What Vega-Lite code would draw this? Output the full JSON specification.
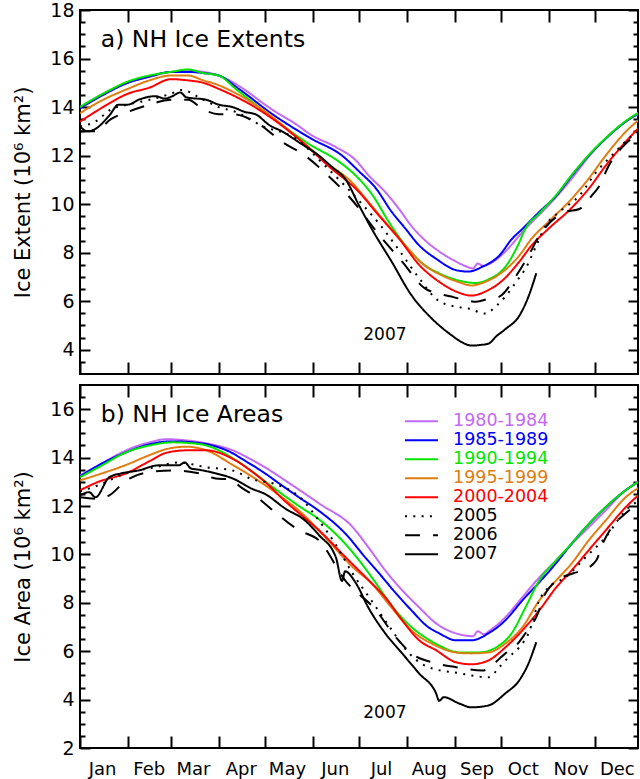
{
  "$schema": "https://vega.github.io/schema/vega-lite/v6.json",
  "padding": {"left": 11, "top": 0, "right": 0, "bottom": 1},
  "spacing": 7,
  "config": {
    "font": "DejaVu Sans",
    "view": {"stroke": "#000", "strokeWidth": 2},
    "axis": {"ticks": true, "tickOpacity": 1, "labelColor": "#000", "titleColor": "#000", "tickColor": "#000", "domainColor": "#000", "tickWidth": 2, "grid": false, "domain": false, "titleFontWeight": "normal", "labelFont": "DejaVu Sans", "titleFont": "DejaVu Sans", "minExtent": 0},
    "legend": {"labelFont": "DejaVu Sans"},
    "text": {"font": "DejaVu Sans", "color": "#000"}
  },
  "resolve": {"scale": {"color": "independent", "strokeDash": "independent"}},
  "datasets": {
    "extent": [
      {"s":"1980-1984","d":0,"v":14.0},{"s":"1980-1984","d":15,"v":14.55},{"s":"1980-1984","d":31,"v":15.0},{"s":"1980-1984","d":45,"v":15.25},{"s":"1980-1984","d":59,"v":15.45},{"s":"1980-1984","d":70,"v":15.5},{"s":"1980-1984","d":80,"v":15.45},{"s":"1980-1984","d":90,"v":15.3},{"s":"1980-1984","d":106,"v":14.75},{"s":"1980-1984","d":120,"v":14.1},{"s":"1980-1984","d":127,"v":13.8},{"s":"1980-1984","d":140,"v":13.3},{"s":"1980-1984","d":150,"v":12.85},{"s":"1980-1984","d":166,"v":12.35},{"s":"1980-1984","d":179,"v":11.8},{"s":"1980-1984","d":187,"v":11.2},{"s":"1980-1984","d":198,"v":10.5},{"s":"1980-1984","d":207,"v":9.8},{"s":"1980-1984","d":215,"v":9.1},{"s":"1980-1984","d":224,"v":8.5},{"s":"1980-1984","d":233,"v":8.05},{"s":"1980-1984","d":242,"v":7.7},{"s":"1980-1984","d":250,"v":7.45},{"s":"1980-1984","d":255,"v":7.35},{"s":"1980-1984","d":258,"v":7.55},{"s":"1980-1984","d":262,"v":7.45},{"s":"1980-1984","d":266,"v":7.55},{"s":"1980-1984","d":276,"v":8.05},{"s":"1980-1984","d":285,"v":8.7},{"s":"1980-1984","d":293,"v":9.25},{"s":"1980-1984","d":304,"v":9.95},{"s":"1980-1984","d":319,"v":11.05},{"s":"1980-1984","d":330,"v":11.95},{"s":"1980-1984","d":341,"v":12.7},{"s":"1980-1984","d":354,"v":13.4},{"s":"1980-1984","d":365,"v":13.8},
      {"s":"1985-1989","d":0,"v":13.95},{"s":"1985-1989","d":15,"v":14.5},{"s":"1985-1989","d":31,"v":15.0},{"s":"1985-1989","d":45,"v":15.25},{"s":"1985-1989","d":59,"v":15.45},{"s":"1985-1989","d":70,"v":15.45},{"s":"1985-1989","d":80,"v":15.4},{"s":"1985-1989","d":90,"v":15.3},{"s":"1985-1989","d":103,"v":14.75},{"s":"1985-1989","d":125,"v":13.7},{"s":"1985-1989","d":150,"v":12.7},{"s":"1985-1989","d":170,"v":12.0},{"s":"1985-1989","d":181,"v":11.35},{"s":"1985-1989","d":192,"v":10.65},{"s":"1985-1989","d":202,"v":9.7},{"s":"1985-1989","d":211,"v":9.0},{"s":"1985-1989","d":220,"v":8.3},{"s":"1985-1989","d":231,"v":7.75},{"s":"1985-1989","d":244,"v":7.28},{"s":"1985-1989","d":252,"v":7.22},{"s":"1985-1989","d":261,"v":7.42},{"s":"1985-1989","d":272,"v":7.88},{"s":"1985-1989","d":280,"v":8.55},{"s":"1985-1989","d":287,"v":8.98},{"s":"1985-1989","d":298,"v":9.68},{"s":"1985-1989","d":309,"v":10.35},{"s":"1985-1989","d":319,"v":11.17},{"s":"1985-1989","d":330,"v":12.0},{"s":"1985-1989","d":341,"v":12.7},{"s":"1985-1989","d":354,"v":13.4},{"s":"1985-1989","d":365,"v":13.85},
      {"s":"1990-1994","d":0,"v":14.0},{"s":"1990-1994","d":15,"v":14.55},{"s":"1990-1994","d":31,"v":15.05},{"s":"1990-1994","d":45,"v":15.3},{"s":"1990-1994","d":59,"v":15.45},{"s":"1990-1994","d":70,"v":15.55},{"s":"1990-1994","d":80,"v":15.4},{"s":"1990-1994","d":90,"v":15.3},{"s":"1990-1994","d":101,"v":14.75},{"s":"1990-1994","d":123,"v":13.65},{"s":"1990-1994","d":148,"v":12.5},{"s":"1990-1994","d":168,"v":11.75},{"s":"1990-1994","d":179,"v":11.17},{"s":"1990-1994","d":190,"v":10.35},{"s":"1990-1994","d":200,"v":9.3},{"s":"1990-1994","d":211,"v":8.3},{"s":"1990-1994","d":224,"v":7.47},{"s":"1990-1994","d":233,"v":7.15},{"s":"1990-1994","d":246,"v":6.85},{"s":"1990-1994","d":257,"v":6.75},{"s":"1990-1994","d":265,"v":6.9},{"s":"1990-1994","d":276,"v":7.42},{"s":"1990-1994","d":284,"v":8.29},{"s":"1990-1994","d":289,"v":9.0},{"s":"1990-1994","d":298,"v":9.62},{"s":"1990-1994","d":309,"v":10.38},{"s":"1990-1994","d":319,"v":11.2},{"s":"1990-1994","d":330,"v":12.02},{"s":"1990-1994","d":341,"v":12.72},{"s":"1990-1994","d":354,"v":13.42},{"s":"1990-1994","d":365,"v":13.87},
      {"s":"1995-1999","d":0,"v":13.75},{"s":"1995-1999","d":15,"v":14.3},{"s":"1995-1999","d":31,"v":14.75},{"s":"1995-1999","d":45,"v":15.1},{"s":"1995-1999","d":59,"v":15.3},{"s":"1995-1999","d":70,"v":15.3},{"s":"1995-1999","d":80,"v":15.1},{"s":"1995-1999","d":90,"v":14.9},{"s":"1995-1999","d":97,"v":14.7},{"s":"1995-1999","d":116,"v":14.0},{"s":"1995-1999","d":148,"v":12.36},{"s":"1995-1999","d":161,"v":11.66},{"s":"1995-1999","d":176,"v":10.92},{"s":"1995-1999","d":187,"v":10.1},{"s":"1995-1999","d":200,"v":9.11},{"s":"1995-1999","d":211,"v":8.3},{"s":"1995-1999","d":224,"v":7.45},{"s":"1995-1999","d":233,"v":7.12},{"s":"1995-1999","d":246,"v":6.78},{"s":"1995-1999","d":254,"v":6.65},{"s":"1995-1999","d":263,"v":6.8},{"s":"1995-1999","d":274,"v":7.2},{"s":"1995-1999","d":285,"v":7.88},{"s":"1995-1999","d":293,"v":8.58},{"s":"1995-1999","d":304,"v":9.28},{"s":"1995-1999","d":319,"v":10.22},{"s":"1995-1999","d":330,"v":11.05},{"s":"1995-1999","d":341,"v":12.0},{"s":"1995-1999","d":354,"v":12.98},{"s":"1995-1999","d":365,"v":13.6},
      {"s":"2000-2004","d":0,"v":13.4},{"s":"2000-2004","d":15,"v":14.0},{"s":"2000-2004","d":31,"v":14.55},{"s":"2000-2004","d":45,"v":14.8},{"s":"2000-2004","d":59,"v":15.15},{"s":"2000-2004","d":70,"v":15.1},{"s":"2000-2004","d":80,"v":15.0},{"s":"2000-2004","d":90,"v":14.75},{"s":"2000-2004","d":112,"v":14.05},{"s":"2000-2004","d":144,"v":12.57},{"s":"2000-2004","d":161,"v":11.58},{"s":"2000-2004","d":181,"v":10.5},{"s":"2000-2004","d":194,"v":9.52},{"s":"2000-2004","d":207,"v":8.58},{"s":"2000-2004","d":220,"v":7.5},{"s":"2000-2004","d":233,"v":6.8},{"s":"2000-2004","d":244,"v":6.4},{"s":"2000-2004","d":254,"v":6.23},{"s":"2000-2004","d":263,"v":6.4},{"s":"2000-2004","d":274,"v":6.85},{"s":"2000-2004","d":285,"v":7.63},{"s":"2000-2004","d":293,"v":8.3},{"s":"2000-2004","d":304,"v":8.99},{"s":"2000-2004","d":319,"v":9.85},{"s":"2000-2004","d":330,"v":10.63},{"s":"2000-2004","d":341,"v":11.58},{"s":"2000-2004","d":354,"v":12.57},{"s":"2000-2004","d":365,"v":13.3},
      {"s":"2005","d":0,"v":13.2},{"s":"2005","d":10,"v":13.4},{"s":"2005","d":20,"v":13.9},{"s":"2005","d":31,"v":14.1},{"s":"2005","d":45,"v":14.3},{"s":"2005","d":59,"v":14.55},{"s":"2005","d":66,"v":14.7},{"s":"2005","d":80,"v":14.3},{"s":"2005","d":90,"v":14.0},{"s":"2005","d":101,"v":13.8},{"s":"2005","d":118,"v":13.23},{"s":"2005","d":140,"v":12.7},{"s":"2005","d":159,"v":11.58},{"s":"2005","d":183,"v":10.0},{"s":"2005","d":194,"v":9.2},{"s":"2005","d":207,"v":8.1},{"s":"2005","d":220,"v":6.95},{"s":"2005","d":233,"v":6.0},{"s":"2005","d":246,"v":5.75},{"s":"2005","d":252,"v":5.7},{"s":"2005","d":263,"v":5.49},{"s":"2005","d":270,"v":5.8},{"s":"2005","d":276,"v":6.19},{"s":"2005","d":283,"v":6.8},{"s":"2005","d":289,"v":7.34},{"s":"2005","d":296,"v":8.29},{"s":"2005","d":302,"v":9.11},{"s":"2005","d":311,"v":9.68},{"s":"2005","d":324,"v":10.35},{"s":"2005","d":335,"v":11.33},{"s":"2005","d":345,"v":12.0},{"s":"2005","d":356,"v":12.7},{"s":"2005","d":365,"v":13.1},
      {"s":"2006","d":0,"v":13.0},{"s":"2006","d":10,"v":13.0},{"s":"2006","d":20,"v":13.5},{"s":"2006","d":31,"v":13.8},{"s":"2006","d":45,"v":14.1},{"s":"2006","d":59,"v":14.3},{"s":"2006","d":70,"v":14.3},{"s":"2006","d":80,"v":13.9},{"s":"2006","d":90,"v":13.7},{"s":"2006","d":99,"v":13.7},{"s":"2006","d":116,"v":13.3},{"s":"2006","d":131,"v":12.57},{"s":"2006","d":146,"v":12.0},{"s":"2006","d":161,"v":11.17},{"s":"2006","d":174,"v":10.35},{"s":"2006","d":196,"v":8.58},{"s":"2006","d":209,"v":7.63},{"s":"2006","d":224,"v":6.52},{"s":"2006","d":241,"v":6.19},{"s":"2006","d":250,"v":6.05},{"s":"2006","d":257,"v":5.98},{"s":"2006","d":265,"v":6.1},{"s":"2006","d":272,"v":6.19},{"s":"2006","d":283,"v":7.05},{"s":"2006","d":291,"v":7.88},{"s":"2006","d":298,"v":8.7},{"s":"2006","d":304,"v":9.19},{"s":"2006","d":315,"v":9.68},{"s":"2006","d":324,"v":9.8},{"s":"2006","d":332,"v":10.35},{"s":"2006","d":337,"v":10.76},{"s":"2006","d":343,"v":11.58},{"s":"2006","d":352,"v":12.36},{"s":"2006","d":358,"v":12.7},{"s":"2006","d":365,"v":12.85},
      {"s":"2007","d":0,"v":13.2},{"s":"2007","d":5,"v":13.0},{"s":"2007","d":10,"v":13.1},{"s":"2007","d":19,"v":13.65},{"s":"2007","d":25,"v":14.1},{"s":"2007","d":31,"v":14.1},{"s":"2007","d":38,"v":14.3},{"s":"2007","d":49,"v":14.45},{"s":"2007","d":55,"v":14.35},{"s":"2007","d":60,"v":14.45},{"s":"2007","d":65,"v":14.6},{"s":"2007","d":69,"v":14.4},{"s":"2007","d":82,"v":14.3},{"s":"2007","d":90,"v":14.1},{"s":"2007","d":99,"v":14.0},{"s":"2007","d":107,"v":13.8},{"s":"2007","d":114,"v":13.7},{"s":"2007","d":123,"v":13.25},{"s":"2007","d":131,"v":13.0},{"s":"2007","d":142,"v":12.55},{"s":"2007","d":155,"v":12.0},{"s":"2007","d":164,"v":11.5},{"s":"2007","d":172,"v":11.05},{"s":"2007","d":181,"v":9.95},{"s":"2007","d":190,"v":8.9},{"s":"2007","d":202,"v":7.65},{"s":"2007","d":215,"v":6.25},{"s":"2007","d":228,"v":5.3},{"s":"2007","d":241,"v":4.6},{"s":"2007","d":248,"v":4.3},{"s":"2007","d":254,"v":4.17},{"s":"2007","d":260,"v":4.2},{"s":"2007","d":265,"v":4.25},{"s":"2007","d":270,"v":4.55},{"s":"2007","d":276,"v":4.85},{"s":"2007","d":285,"v":5.4},{"s":"2007","d":291,"v":6.2},{"s":"2007","d":296,"v":7.15}
    ],
    "area": [
      {"s":"1980-1984","d":0,"v":13.27},{"s":"1980-1984","d":12,"v":13.68},{"s":"1980-1984","d":30,"v":14.3},{"s":"1980-1984","d":45,"v":14.63},{"s":"1980-1984","d":56,"v":14.76},{"s":"1980-1984","d":69,"v":14.71},{"s":"1980-1984","d":82,"v":14.59},{"s":"1980-1984","d":99,"v":14.3},{"s":"1980-1984","d":112,"v":13.89},{"s":"1980-1984","d":120,"v":13.6},{"s":"1980-1984","d":133,"v":13.06},{"s":"1980-1984","d":155,"v":12.11},{"s":"1980-1984","d":177,"v":11.12},{"s":"1980-1984","d":187,"v":10.3},{"s":"1980-1984","d":198,"v":9.34},{"s":"1980-1984","d":209,"v":8.52},{"s":"1980-1984","d":220,"v":7.81},{"s":"1980-1984","d":231,"v":7.15},{"s":"1980-1984","d":246,"v":6.7},{"s":"1980-1984","d":255,"v":6.62},{"s":"1980-1984","d":258,"v":6.82},{"s":"1980-1984","d":262,"v":6.7},{"s":"1980-1984","d":266,"v":6.86},{"s":"1980-1984","d":276,"v":7.41},{"s":"1980-1984","d":287,"v":8.23},{"s":"1980-1984","d":298,"v":9.05},{"s":"1980-1984","d":309,"v":9.76},{"s":"1980-1984","d":319,"v":10.43},{"s":"1980-1984","d":330,"v":11.12},{"s":"1980-1984","d":341,"v":11.82},{"s":"1980-1984","d":354,"v":12.65},{"s":"1980-1984","d":365,"v":13.1},
      {"s":"1985-1989","d":0,"v":13.22},{"s":"1985-1989","d":12,"v":13.68},{"s":"1985-1989","d":30,"v":14.22},{"s":"1985-1989","d":45,"v":14.55},{"s":"1985-1989","d":60,"v":14.67},{"s":"1985-1989","d":73,"v":14.63},{"s":"1985-1989","d":86,"v":14.5},{"s":"1985-1989","d":99,"v":14.18},{"s":"1985-1989","d":105,"v":13.95},{"s":"1985-1989","d":120,"v":13.35},{"s":"1985-1989","d":129,"v":12.94},{"s":"1985-1989","d":142,"v":12.36},{"s":"1985-1989","d":155,"v":11.8},{"s":"1985-1989","d":172,"v":10.87},{"s":"1985-1989","d":185,"v":9.88},{"s":"1985-1989","d":194,"v":9.22},{"s":"1985-1989","d":205,"v":8.39},{"s":"1985-1989","d":215,"v":7.69},{"s":"1985-1989","d":226,"v":6.99},{"s":"1985-1989","d":233,"v":6.74},{"s":"1985-1989","d":244,"v":6.45},{"s":"1985-1989","d":254,"v":6.45},{"s":"1985-1989","d":265,"v":6.74},{"s":"1985-1989","d":276,"v":7.28},{"s":"1985-1989","d":287,"v":8.1},{"s":"1985-1989","d":298,"v":8.85},{"s":"1985-1989","d":309,"v":9.65},{"s":"1985-1989","d":319,"v":10.45},{"s":"1985-1989","d":330,"v":11.25},{"s":"1985-1989","d":341,"v":11.95},{"s":"1985-1989","d":354,"v":12.65},{"s":"1985-1989","d":365,"v":13.1},
      {"s":"1990-1994","d":0,"v":13.19},{"s":"1990-1994","d":12,"v":13.6},{"s":"1990-1994","d":30,"v":14.22},{"s":"1990-1994","d":45,"v":14.5},{"s":"1990-1994","d":60,"v":14.63},{"s":"1990-1994","d":73,"v":14.59},{"s":"1990-1994","d":82,"v":14.5},{"s":"1990-1994","d":101,"v":13.9},{"s":"1990-1994","d":125,"v":12.78},{"s":"1990-1994","d":142,"v":12.0},{"s":"1990-1994","d":155,"v":11.45},{"s":"1990-1994","d":170,"v":10.58},{"s":"1990-1994","d":181,"v":9.76},{"s":"1990-1994","d":192,"v":8.81},{"s":"1990-1994","d":202,"v":7.9},{"s":"1990-1994","d":215,"v":7.0},{"s":"1990-1994","d":224,"v":6.57},{"s":"1990-1994","d":233,"v":6.24},{"s":"1990-1994","d":246,"v":5.95},{"s":"1990-1994","d":259,"v":5.95},{"s":"1990-1994","d":270,"v":6.16},{"s":"1990-1994","d":280,"v":6.74},{"s":"1990-1994","d":289,"v":7.81},{"s":"1990-1994","d":298,"v":8.93},{"s":"1990-1994","d":309,"v":9.76},{"s":"1990-1994","d":319,"v":10.45},{"s":"1990-1994","d":330,"v":11.25},{"s":"1990-1994","d":341,"v":11.95},{"s":"1990-1994","d":354,"v":12.65},{"s":"1990-1994","d":365,"v":13.1},
      {"s":"1995-1999","d":0,"v":13.06},{"s":"1995-1999","d":12,"v":13.3},{"s":"1995-1999","d":30,"v":13.7},{"s":"1995-1999","d":45,"v":14.1},{"s":"1995-1999","d":56,"v":14.35},{"s":"1995-1999","d":69,"v":14.45},{"s":"1995-1999","d":82,"v":14.3},{"s":"1995-1999","d":99,"v":13.7},{"s":"1995-1999","d":112,"v":13.2},{"s":"1995-1999","d":131,"v":12.36},{"s":"1995-1999","d":144,"v":11.7},{"s":"1995-1999","d":159,"v":10.71},{"s":"1995-1999","d":177,"v":9.47},{"s":"1995-1999","d":189,"v":8.81},{"s":"1995-1999","d":202,"v":7.81},{"s":"1995-1999","d":215,"v":6.86},{"s":"1995-1999","d":228,"v":6.32},{"s":"1995-1999","d":246,"v":5.93},{"s":"1995-1999","d":254,"v":5.91},{"s":"1995-1999","d":265,"v":5.95},{"s":"1995-1999","d":276,"v":6.32},{"s":"1995-1999","d":287,"v":6.99},{"s":"1995-1999","d":298,"v":8.1},{"s":"1995-1999","d":309,"v":8.93},{"s":"1995-1999","d":319,"v":9.63},{"s":"1995-1999","d":330,"v":10.58},{"s":"1995-1999","d":341,"v":11.4},{"s":"1995-1999","d":354,"v":12.36},{"s":"1995-1999","d":365,"v":12.85},
      {"s":"2000-2004","d":0,"v":12.65},{"s":"2000-2004","d":12,"v":13.0},{"s":"2000-2004","d":30,"v":13.35},{"s":"2000-2004","d":45,"v":13.85},{"s":"2000-2004","d":56,"v":14.2},{"s":"2000-2004","d":69,"v":14.3},{"s":"2000-2004","d":82,"v":14.3},{"s":"2000-2004","d":99,"v":13.95},{"s":"2000-2004","d":112,"v":13.4},{"s":"2000-2004","d":120,"v":13.0},{"s":"2000-2004","d":133,"v":12.2},{"s":"2000-2004","d":144,"v":11.6},{"s":"2000-2004","d":155,"v":11.0},{"s":"2000-2004","d":172,"v":9.9},{"s":"2000-2004","d":187,"v":8.95},{"s":"2000-2004","d":198,"v":8.23},{"s":"2000-2004","d":209,"v":7.28},{"s":"2000-2004","d":220,"v":6.45},{"s":"2000-2004","d":231,"v":6.04},{"s":"2000-2004","d":244,"v":5.54},{"s":"2000-2004","d":254,"v":5.46},{"s":"2000-2004","d":265,"v":5.62},{"s":"2000-2004","d":276,"v":6.16},{"s":"2000-2004","d":287,"v":6.86},{"s":"2000-2004","d":298,"v":7.69},{"s":"2000-2004","d":309,"v":8.64},{"s":"2000-2004","d":319,"v":9.34},{"s":"2000-2004","d":330,"v":10.17},{"s":"2000-2004","d":341,"v":10.99},{"s":"2000-2004","d":354,"v":11.95},{"s":"2000-2004","d":365,"v":12.6},
      {"s":"2005","d":0,"v":12.6},{"s":"2005","d":12,"v":12.86},{"s":"2005","d":30,"v":13.35},{"s":"2005","d":49,"v":13.6},{"s":"2005","d":64,"v":13.8},{"s":"2005","d":82,"v":13.6},{"s":"2005","d":99,"v":13.47},{"s":"2005","d":112,"v":13.1},{"s":"2005","d":127,"v":12.9},{"s":"2005","d":142,"v":12.4},{"s":"2005","d":155,"v":11.4},{"s":"2005","d":166,"v":10.4},{"s":"2005","d":177,"v":9.2},{"s":"2005","d":189,"v":8.1},{"s":"2005","d":202,"v":6.9},{"s":"2005","d":213,"v":5.95},{"s":"2005","d":226,"v":5.34},{"s":"2005","d":246,"v":5.09},{"s":"2005","d":254,"v":5.0},{"s":"2005","d":265,"v":4.92},{"s":"2005","d":272,"v":5.34},{"s":"2005","d":278,"v":5.75},{"s":"2005","d":285,"v":6.16},{"s":"2005","d":291,"v":6.74},{"s":"2005","d":298,"v":8.1},{"s":"2005","d":304,"v":8.64},{"s":"2005","d":315,"v":9.05},{"s":"2005","d":328,"v":9.88},{"s":"2005","d":341,"v":10.71},{"s":"2005","d":354,"v":11.82},{"s":"2005","d":365,"v":12.3},
      {"s":"2006","d":0,"v":12.36},{"s":"2006","d":10,"v":12.3},{"s":"2006","d":19,"v":12.44},{"s":"2006","d":30,"v":13.06},{"s":"2006","d":45,"v":13.4},{"s":"2006","d":60,"v":13.47},{"s":"2006","d":77,"v":13.35},{"s":"2006","d":88,"v":13.14},{"s":"2006","d":97,"v":13.1},{"s":"2006","d":105,"v":12.75},{"s":"2006","d":115,"v":12.35},{"s":"2006","d":125,"v":11.82},{"s":"2006","d":142,"v":11.0},{"s":"2006","d":155,"v":10.58},{"s":"2006","d":172,"v":8.93},{"s":"2006","d":192,"v":7.69},{"s":"2006","d":205,"v":6.57},{"s":"2006","d":215,"v":5.91},{"s":"2006","d":231,"v":5.5},{"s":"2006","d":244,"v":5.34},{"s":"2006","d":261,"v":5.2},{"s":"2006","d":276,"v":5.91},{"s":"2006","d":283,"v":6.24},{"s":"2006","d":289,"v":6.74},{"s":"2006","d":296,"v":7.41},{"s":"2006","d":302,"v":8.39},{"s":"2006","d":307,"v":8.81},{"s":"2006","d":320,"v":9.22},{"s":"2006","d":326,"v":9.34},{"s":"2006","d":335,"v":9.76},{"s":"2006","d":339,"v":10.43},{"s":"2006","d":345,"v":11.12},{"s":"2006","d":354,"v":11.7},{"s":"2006","d":365,"v":12.2},
      {"s":"2007","d":0,"v":12.44},{"s":"2007","d":6,"v":12.57},{"s":"2007","d":10,"v":12.36},{"s":"2007","d":19,"v":13.19},{"s":"2007","d":27,"v":13.35},{"s":"2007","d":38,"v":13.47},{"s":"2007","d":51,"v":13.68},{"s":"2007","d":64,"v":13.68},{"s":"2007","d":68,"v":13.8},{"s":"2007","d":72,"v":13.55},{"s":"2007","d":77,"v":13.5},{"s":"2007","d":88,"v":13.35},{"s":"2007","d":99,"v":13.14},{"s":"2007","d":112,"v":12.7},{"s":"2007","d":120,"v":12.5},{"s":"2007","d":133,"v":11.9},{"s":"2007","d":146,"v":11.4},{"s":"2007","d":155,"v":10.8},{"s":"2007","d":166,"v":9.88},{"s":"2007","d":170,"v":8.9},{"s":"2007","d":172,"v":9.3},{"s":"2007","d":179,"v":8.81},{"s":"2007","d":187,"v":7.81},{"s":"2007","d":198,"v":6.74},{"s":"2007","d":209,"v":5.91},{"s":"2007","d":220,"v":5.08},{"s":"2007","d":231,"v":4.26},{"s":"2007","d":233,"v":3.95},{"s":"2007","d":236,"v":4.1},{"s":"2007","d":246,"v":3.84},{"s":"2007","d":254,"v":3.68},{"s":"2007","d":265,"v":3.76},{"s":"2007","d":276,"v":4.26},{"s":"2007","d":285,"v":4.8},{"s":"2007","d":291,"v":5.5},{"s":"2007","d":296,"v":6.37}
    ]
  },
  "vconcat": [
    {
      "width": 558, "height": 364,
      "resolve": {"axis": {"x": "independent", "y": "independent"}},
      "layer": [
        {
          "data": {"name": "extent"},
          "mark": {"type": "line", "interpolate": "monotone", "clip": true, "strokeWidth": 2},
          "encoding": {
            "x": {"field": "d", "type": "quantitative", "scale": {"domain": [0, 362], "nice": false, "zero": false},
                  "axis": {"orient": "bottom", "values": [0,31,59,90,120,151,181,212,243,273,304,334], "offset": -12, "ticks": true, "tickSize": 12, "labels": false, "title": null}},
            "y": {"field": "v", "type": "quantitative", "scale": {"domain": [3, 18], "nice": false, "zero": false},
                  "axis": {"orient": "left", "values": [4,6,8,10,12,14,16,18], "offset": -10, "ticks": true, "tickSize": 10, "format": "d",
                           "labelPadding": 6, "labelFontSize": 19, "labelOverlap": false, "labelFlush": false,
                           "title": "Ice Extent (10⁶ km²)", "titleFontSize": 21, "titlePadding": 16.5}},
            "color": {"field": "s", "type": "nominal", "legend": null,
                      "scale": {"domain": ["1980-1984","1985-1989","1990-1994","1995-1999","2000-2004","2005","2006","2007"], "range": ["#c468f8","#0000ff","#00e600","#e07d10","#ff0000","#000000","#000000","#000000"]}},
            "strokeDash": {"field": "s", "type": "nominal", "legend": null,
                      "scale": {"domain": ["1980-1984","1985-1989","1990-1994","1995-1999","2000-2004","2005","2006","2007"], "range": [[1,0],[1,0],[1,0],[1,0],[1,0],[2,6.3],[15,13],[1,0]]}}
          }
        },
        {
          "data": {"values": [{"d": 13.5, "v": 16.47, "t": "a) NH Ice Extents"}]},
          "mark": {"type": "text", "align": "left", "baseline": "alphabetic", "fontSize": 23.5},
          "encoding": {
            "x": {"field": "d", "type": "quantitative", "scale": {"domain": [0, 362], "nice": false, "zero": false},
                  "axis": {"orient": "top", "values": [0,31,59,90,120,151,181,212,243,273,304,334], "offset": -12, "ticks": true, "tickSize": 12, "labels": false, "title": null}},
            "y": {"field": "v", "type": "quantitative", "scale": {"domain": [3, 18], "nice": false, "zero": false},
                  "axis": {"orient": "left", "values": [3.5,4.5,5,5.5,6.5,7,7.5,8.5,9,9.5,10.5,11,11.5,12.5,13,13.5,14.5,15,15.5,16.5,17,17.5], "offset": -5, "ticks": true, "tickSize": 5, "labels": false, "title": null}},
            "text": {"field": "t"}
          }
        },
        {
          "data": {"values": [{"d": 197.8, "v": 4.39, "t": "2007"}]},
          "mark": {"type": "text", "align": "center", "baseline": "alphabetic", "fontSize": 17},
          "encoding": {
            "x": {"field": "d", "type": "quantitative", "scale": {"domain": [0, 362], "nice": false, "zero": false}, "axis": null},
            "y": {"field": "v", "type": "quantitative", "scale": {"domain": [3, 18], "nice": false, "zero": false},
                  "axis": {"orient": "right", "values": [4,6,8,10,12,14,16,18], "offset": -10, "ticks": true, "tickSize": 10, "labels": false, "title": null}},
            "text": {"field": "t"}
          }
        },
        {
          "data": {"values": [{"d": 197.8, "v": 4.39}]},
          "mark": {"type": "point", "opacity": 0},
          "encoding": {
            "x": {"field": "d", "type": "quantitative", "scale": {"domain": [0, 362], "nice": false, "zero": false}, "axis": null},
            "y": {"field": "v", "type": "quantitative", "scale": {"domain": [3, 18], "nice": false, "zero": false},
                  "axis": {"orient": "right", "values": [3.5,4.5,5,5.5,6.5,7,7.5,8.5,9,9.5,10.5,11,11.5,12.5,13,13.5,14.5,15,15.5,16.5,17,17.5], "offset": -5, "ticks": true, "tickSize": 5, "labels": false, "title": null}}
          }
        }
      ]
    },
    {
      "width": 558, "height": 363,
      "resolve": {"axis": {"x": "independent", "y": "independent"}},
      "layer": [
        {
          "data": {"name": "area"},
          "mark": {"type": "line", "interpolate": "monotone", "clip": true, "strokeWidth": 2},
          "encoding": {
            "x": {"field": "d", "type": "quantitative", "scale": {"domain": [0, 362], "nice": false, "zero": false},
                  "axis": {"orient": "bottom", "values": [0,31,59,90,120,151,181,212,243,273,304,334], "offset": -12, "ticks": true, "tickSize": 12,
                           "labelExpr": "['Jan','Feb','Mar','Apr','May','Jun','Jul','Aug','Sep','Oct','Nov','Dec'][indexof([0,31,59,90,120,151,181,212,243,273,304,334], datum.value)]",
                           "labelOffset": {"condition": {"test": "datum.value === 31", "value": 21}, "value": 22},
                           "labelPadding": 12, "labelFontSize": 18, "labelFlush": false, "labelOverlap": false, "labelBound": false, "title": null}},
            "y": {"field": "v", "type": "quantitative", "scale": {"domain": [2, 17], "nice": false, "zero": false},
                  "axis": {"orient": "left", "values": [2,4,6,8,10,12,14,16], "offset": -10, "ticks": true, "tickSize": 10, "format": "d",
                           "labelPadding": 6, "labelFontSize": 19, "labelOverlap": false, "labelFlush": false,
                           "title": "Ice Area (10⁶ km²)", "titleFontSize": 21, "titlePadding": 16.5}},
            "color": {"field": "s", "type": "nominal",
                      "scale": {"domain": ["1980-1984","1985-1989","1990-1994","1995-1999","2000-2004","2005","2006","2007"], "range": ["#c468f8","#0000ff","#00e600","#e07d10","#ff0000","#000000","#000000","#000000"]},
                      "legend": {"orient": "none", "legendX": 324, "legendY": 27, "title": null, "symbolType": "stroke", "symbolSize": 1089, "symbolStrokeWidth": 2,
                                 "labelFontSize": 17.5, "labelOffset": 14, "clipHeight": 18.5, "rowPadding": 0, "padding": 0, "labelLimit": 300,
                                 "encode": {"labels": {"update": {"fill": {"signal": "datum.label === '1980-1984' ? '#c468f8' : datum.label === '1985-1989' ? '#0000ff' : datum.label === '1990-1994' ? '#00e600' : datum.label === '1995-1999' ? '#e07d10' : datum.label === '2000-2004' ? '#ff0000' : '#000000'"}}}}}},
            "strokeDash": {"field": "s", "type": "nominal",
                      "scale": {"domain": ["1980-1984","1985-1989","1990-1994","1995-1999","2000-2004","2005","2006","2007"], "range": [[1,0],[1,0],[1,0],[1,0],[1,0],[2,6.3],[15,13],[1,0]]},
                      "legend": {"orient": "none", "legendX": 324, "legendY": 27, "title": null, "symbolType": "stroke", "symbolSize": 1089, "symbolStrokeWidth": 2,
                                 "labelFontSize": 17.5, "labelOffset": 14, "clipHeight": 18.5, "rowPadding": 0, "padding": 0, "labelLimit": 300,
                                 "encode": {"labels": {"update": {"fill": {"signal": "datum.label === '1980-1984' ? '#c468f8' : datum.label === '1985-1989' ? '#0000ff' : datum.label === '1990-1994' ? '#00e600' : datum.label === '1995-1999' ? '#e07d10' : datum.label === '2000-2004' ? '#ff0000' : '#000000'"}}}}}}
          }
        },
        {
          "data": {"values": [{"d": 13.5, "v": 15.47, "t": "b) NH Ice Areas"}]},
          "mark": {"type": "text", "align": "left", "baseline": "alphabetic", "fontSize": 23.5},
          "encoding": {
            "x": {"field": "d", "type": "quantitative", "scale": {"domain": [0, 362], "nice": false, "zero": false},
                  "axis": {"orient": "top", "values": [0,31,59,90,120,151,181,212,243,273,304,334], "offset": -12, "ticks": true, "tickSize": 12, "labels": false, "title": null}},
            "y": {"field": "v", "type": "quantitative", "scale": {"domain": [2, 17], "nice": false, "zero": false},
                  "axis": {"orient": "left", "values": [2.5,3,3.5,4.5,5,5.5,6.5,7,7.5,8.5,9,9.5,10.5,11,11.5,12.5,13,13.5,14.5,15,15.5,16.5], "offset": -5, "ticks": true, "tickSize": 5, "labels": false, "title": null}},
            "text": {"field": "t"}
          }
        },
        {
          "data": {"values": [{"d": 197.8, "v": 3.26, "t": "2007"}]},
          "mark": {"type": "text", "align": "center", "baseline": "alphabetic", "fontSize": 17},
          "encoding": {
            "x": {"field": "d", "type": "quantitative", "scale": {"domain": [0, 362], "nice": false, "zero": false}, "axis": null},
            "y": {"field": "v", "type": "quantitative", "scale": {"domain": [2, 17], "nice": false, "zero": false},
                  "axis": {"orient": "right", "values": [2,4,6,8,10,12,14,16], "offset": -10, "ticks": true, "tickSize": 10, "labels": false, "title": null}},
            "text": {"field": "t"}
          }
        },
        {
          "data": {"values": [{"d": 197.8, "v": 3.26}]},
          "mark": {"type": "point", "opacity": 0},
          "encoding": {
            "x": {"field": "d", "type": "quantitative", "scale": {"domain": [0, 362], "nice": false, "zero": false}, "axis": null},
            "y": {"field": "v", "type": "quantitative", "scale": {"domain": [2, 17], "nice": false, "zero": false},
                  "axis": {"orient": "right", "values": [2.5,3,3.5,4.5,5,5.5,6.5,7,7.5,8.5,9,9.5,10.5,11,11.5,12.5,13,13.5,14.5,15,15.5,16.5], "offset": -5, "ticks": true, "tickSize": 5, "labels": false, "title": null}}
          }
        }
      ]
    }
  ]
}
